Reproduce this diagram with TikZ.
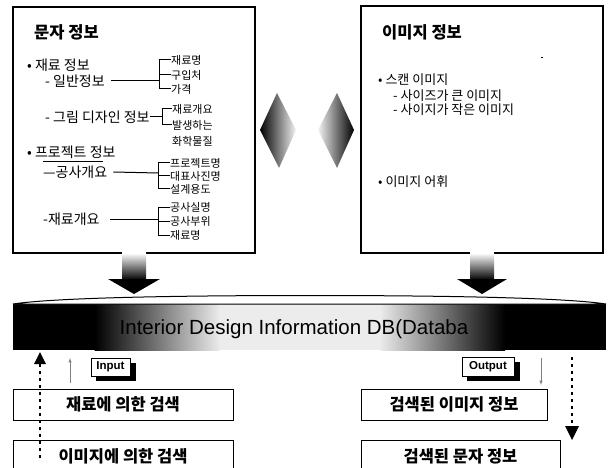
\documentclass[tikz,border=0pt]{standalone}
\usepackage{fontspec}
\setmainfont{Noto Sans CJK KR}
\newfontfamily\lat{Liberation Sans}
\begin{document}
\begin{tikzpicture}[x=1pt,y=-1pt,
  ttl/.style={inner sep=0pt, anchor=west, font=\bfseries\fontsize{16.5}{16.5}\selectfont},
  body/.style={inner sep=0pt, anchor=west, font=\fontsize{14}{14}\selectfont},
  rbody/.style={inner sep=0pt, anchor=west, font=\fontsize{13}{13}\selectfont},
  item/.style={inner sep=0pt, anchor=west, font=\fontsize{11}{11}\selectfont},
  frame/.style={line width=1.1pt},
  brk/.style={line width=1pt},
  lowbox/.style={draw, line width=1pt, fill=white, inner sep=0pt, font=\bfseries\fontsize{16.5}{16.5}\selectfont},
  tagbox/.style={draw, line width=1pt, fill=white, inner sep=2pt, font=\lat\bfseries\fontsize{11.5}{11.5}\selectfont},
  dots/.style={line width=2.6pt, dash pattern=on 2.6pt off 4.4pt},
  thinarr/.style={gray, line width=0.5pt, -latex}
]
\useasboundingbox (0,0) rectangle (608,468);

% ---------- top boxes ----------
\draw[frame] (122,253) -- (13,253) -- (13,7) -- (255,7) -- (255,253) -- (146,253);
\draw[frame] (470,253) -- (361,253) -- (361,6) -- (603,6) -- (603,253) -- (494,253);

% left box text
\node[ttl] (t1) at (34,32) {문자 정보};
\node[body] (a1) at (27,65) {• 재료 정보};
\node[body] (a2) at (45,81) {- 일반정보};
\node[item] (b1) at (171,60) {재료명};
\node[item] (b2) at (171,75) {구입처};
\node[item] (b3) at (171,89) {가격};
\coordinate (c1) at (159,81);
\draw[brk] (a2.east) ++(6,0) -- (c1);
\draw[brk] (b1.west) -- (159,60) -- (159,89) -- (b3.west);
\draw[brk] (159,75) -- (b2.west);

\node[body] (a3) at (45,117) {- 그림 디자인 정보};
\node[item] (b4) at (172,109) {재료개요};
\node[item] (b5) at (172,125) {발생하는};
\node[item] (b6) at (172,141) {화학물질};
\draw[brk] (a3.east) -- (162,117);
\draw[brk] (b4.west) -- (162,109) -- (162,125) -- (b5.west);

\node[body] (a4) at (27,152) {• 프로젝트 정보};
\draw[line width=0.8pt] (43,161) -- (103,161);
\node[body] (a5) at (43,172) {—공사개요};
\node[item] (b7) at (170,163) {프로젝트명};
\node[item] (b8) at (170,176) {대표사진명};
\node[item] (b9) at (170,189) {설계용도};
\coordinate (c2) at (158,173);
\draw[brk] (a5.east) ++(6,0) -- (c2);
\draw[brk] (b7.west) -- (158,163) -- (158,189) -- (b9.west);
\draw[brk] (158,176) -- (b8.west);

\node[body] (a6) at (43,219) {-재료개요};
\node[item] (b10) at (170,207) {공사실명};
\node[item] (b11) at (170,221) {공사부위};
\node[item] (b12) at (170,235) {재료명};
\coordinate (c3) at (158,219);
\draw[brk] (110,219) -- (c3);
\draw[brk] (b10.west) -- (158,207) -- (158,235) -- (b12.west);
\draw[brk] (158,221) -- (b11.west);

% right box text
\node[ttl] (t2) at (382,32) {이미지 정보};
\node[rbody] (r1) at (378,80) {• 스캔 이미지};
\node[rbody] (r2) at (393,96) {- 사이즈가 큰 이미지};
\node[rbody] (r3) at (393,110) {- 사이지가 작은 이미지};
\node[rbody] (r4) at (378,182) {• 이미지 어휘};
\fill (541,57) rectangle (542.5,58.5);

% ---------- double diamond arrow ----------
\shade[left color=black, right color=gray!10] (260,130) -- (277,93) -- (296,130) -- (279,168) -- cycle;
\shade[left color=gray!10, right color=black] (354,130) -- (337,93) -- (318,130) -- (337,168) -- cycle;

% ---------- down arrows ----------
\shade[top color=white, bottom color=black] (122,253) rectangle (146,280);
\fill (108,279) -- (160,279) -- (134,294) -- cycle;
\shade[top color=white, bottom color=black] (470,253) rectangle (494,280);
\fill (457,279) -- (507,279) -- (482,294) -- cycle;

% ---------- DB band ----------
\fill[black] (13,304) rectangle (95,350);
\shade[left color=black, right color=gray!15] (94.5,304) rectangle (220,350);
\fill[gray!15] (219.5,304) rectangle (380,350);
\shade[left color=gray!15, right color=black] (379.5,304) rectangle (505,350);
\fill[black] (504.5,304) rectangle (606,350);
\filldraw[fill=white, draw=black, line width=1pt] (13,304) .. controls (60,297) and (200,295.5) .. (310,295.5) .. controls (420,295.5) and (560,297) .. (606,304) -- cycle;
\node[inner sep=0pt, font=\lat\fontsize{20.5}{20.5}\selectfont] (db) at (294,329) {Interior Design Information DB(Databa};

% ---------- tags ----------
\fill (96,363) rectangle (136,381);
\node[tagbox, minimum width=39pt, minimum height=18pt] (in) at (110.5,367) {Input};
\fill (467,362) rectangle (520,381);
\node[tagbox, minimum width=52pt, minimum height=19pt] (out) at (488,366.5) {Output};
\coordinate (ia) at (70,383);
\coordinate (ib) at (70,358);
\draw[thinarr] (ia) -- (ib);
\coordinate (oa) at (541,358);
\coordinate (ob) at (541,385);
\draw[thinarr] (oa) -- (ob);

% ---------- lower boxes ----------
\node[lowbox, minimum width=220pt, minimum height=31pt] (l1) at (123,404.5) {재료에 의한 검색};
\node[lowbox, minimum width=220pt, minimum height=32pt] (l2) at (123,456) {이미지에 의한 검색};
\node[lowbox, minimum width=186pt, minimum height=31pt] (q1) at (454,404.5) {검색된 이미지 정보};
\node[lowbox, minimum width=199pt, minimum height=32pt] (q2) at (460.5,456) {검색된 문자 정보};

% ---------- dotted arrows ----------
\coordinate (d1) at (40,458);
\coordinate (d2) at (40,364);
\draw[dots] (d1) -- (d2);
\fill (40,352) -- (34,364) -- (46,364) -- cycle;
\coordinate (e1) at (572,357);
\coordinate (e2) at (572,426);
\draw[dots] (e1) -- (e2);
\fill (565,426) -- (579,426) -- (572,440) -- cycle;
\end{tikzpicture}
\end{document}
